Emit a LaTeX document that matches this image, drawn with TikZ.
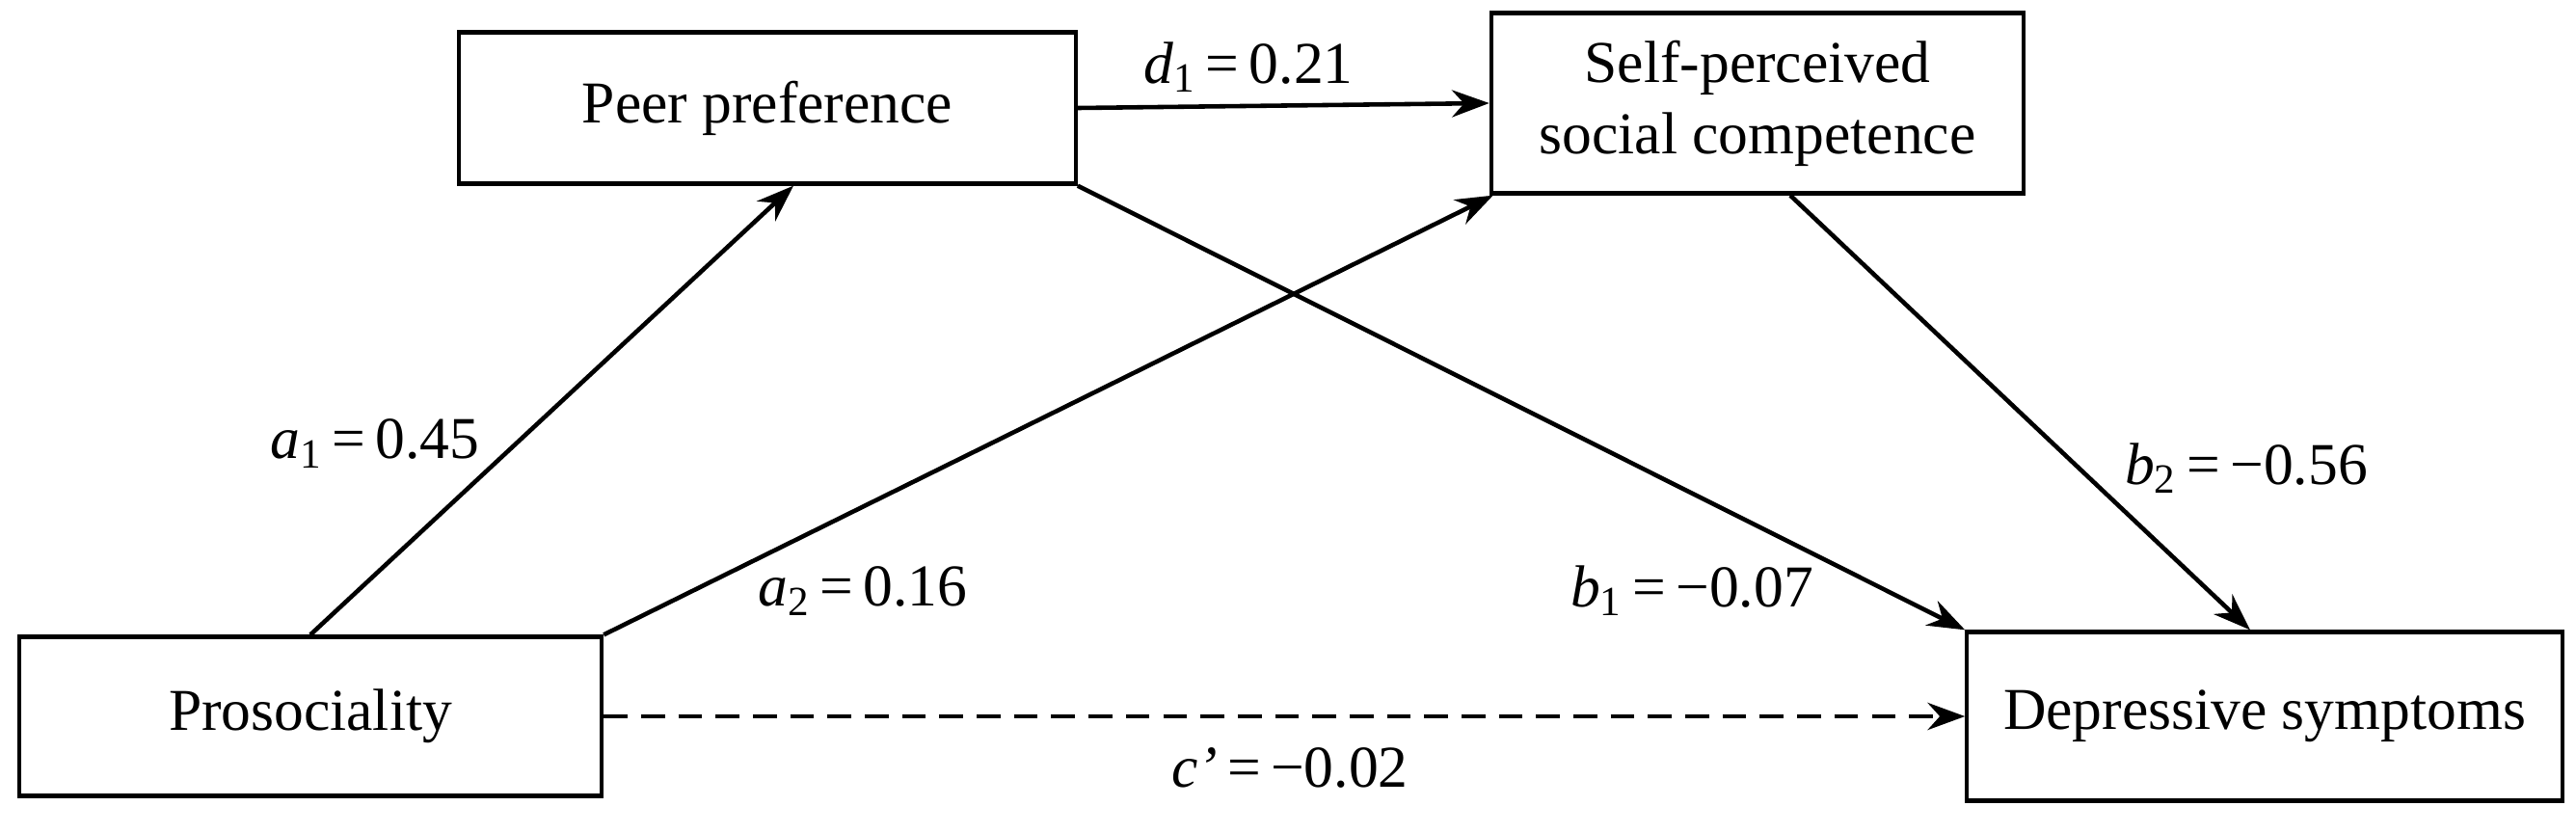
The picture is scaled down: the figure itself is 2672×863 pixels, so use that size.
\documentclass[tikz,border=0pt]{standalone}
\usepackage{fontspec}
\setmainfont{Liberation Serif}
\usetikzlibrary{arrows.meta}
\begin{document}
\begin{tikzpicture}[x=0.01cm,y=-0.01cm,
  box/.style={draw,line width=1.2pt,inner sep=0pt,align=center},
  arr/.style={line width=1.3pt,-{Stealth[length=11pt,width=8pt]}},
  every node/.append style={font=\fontsize{17.5}{21}\selectfont}]
\useasboundingbox (0,0) rectangle (2672,863);
\node[box,minimum width=6.39cm,minimum height=1.57cm] (peer) at (796,112) {Peer preference};
\node[box,minimum width=5.52cm,minimum height=1.87cm] (self) at (1823,107) {Self-perceived\\social competence};
\node[box,minimum width=6.04cm,minimum height=1.65cm] (pros) at (322,743) {Prosociality};
\node[box,minimum width=6.17cm,minimum height=1.75cm] (dep) at (2349,743) {Depressive symptoms};
\coordinate (p2) at ([xshift=0.27cm]peer.south);
\draw[arr] (pros.north) -- (p2);
\coordinate (s1) at ([xshift=0.04cm]self.south west);
\draw[arr] (pros.north east) -- (s1);
\draw[arr] (peer.east) -- (self.west);
\draw[arr] (peer.south east) -- (dep.north west);
\coordinate (s2) at ([xshift=0.34cm]self.south);
\coordinate (d2) at ([xshift=-0.15cm]dep.north);
\draw[arr] (s2) -- (d2);
\draw[arr,dash pattern=on 7pt off 4pt] (pros.east) -- (dep.west);
\node (la1) at (389,460) {\textit{a}\textsubscript{1}\,=\,0.45};
\node (la2) at (895,613) {\textit{a}\textsubscript{2}\,=\,0.16};
\node (ld1) at (1295,70) {\textit{d}\textsubscript{1}\,=\,0.21};
\node (lb1) at (1755,613) {\textit{b}\textsubscript{1}\,=\,−0.07};
\node (lb2) at (2330,486) {\textit{b}\textsubscript{2}\,=\,−0.56};
\node (lc) at (1338,796) {\textit{c’}\,=\,−0.02};
\end{tikzpicture}
\end{document}
